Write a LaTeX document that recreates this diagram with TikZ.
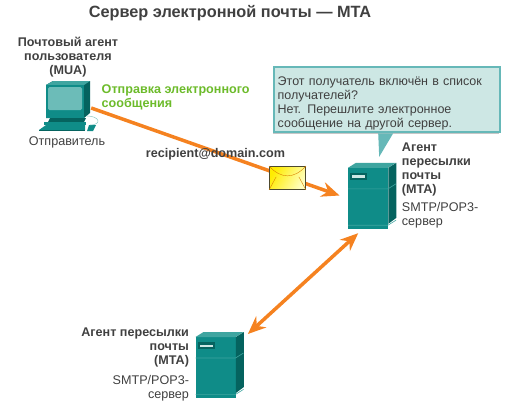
\documentclass[tikz,border=0pt]{standalone}
\usepackage{fontspec}
\setmainfont{Liberation Sans}
\usetikzlibrary{shadows,arrows.meta}
\definecolor{tealmain}{HTML}{0F8C88}
\definecolor{tealdark}{HTML}{05635F}
\definecolor{teallight}{HTML}{3FA5A0}
\definecolor{screenfill}{HTML}{6CBCB8}
\definecolor{notefill}{HTML}{CDE7E4}
\definecolor{noteedge}{HTML}{66B8B8}
\definecolor{textgrey}{HTML}{404040}
\definecolor{sendgreen}{HTML}{6CBB2A}
\definecolor{arroworange}{HTML}{F58220}
\tikzstyle{titel}=[text=textgrey, font=\fontsize{16.3}{19}\selectfont\bfseries]
\tikzstyle{agent}=[text=textgrey, font=\fontsize{12.6}{14}\selectfont\bfseries]
\tikzstyle{plain}=[text=textgrey, font=\fontsize{12.6}{14}\selectfont]
\tikzstyle{sendtext}=[text=sendgreen, font=\fontsize{12.6}{14}\selectfont\bfseries, align=left]
\tikzstyle{note}=[draw=noteedge, line width=2pt, fill=notefill, text=textgrey, align=left,
  font=\fontsize{12.5}{14}\selectfont, minimum width=226pt, minimum height=65pt, inner sep=0pt,
  text width=218pt, drop shadow={shadow xshift=-1pt, shadow yshift=-2pt, opacity=0.45}]
\tikzstyle{serverfront}=[fill=tealmain, minimum width=40pt, minimum height=61pt, inner sep=0pt]
\tikzstyle{pcbox}=[minimum width=51pt, minimum height=54pt, inner sep=0pt]
\tikzstyle{line}=[draw, line width=3.5pt, color=arroworange,
  -{Stealth[length=18pt, width=15pt, inset=6pt]}]
\tikzstyle{dline}=[line, {Stealth[length=18pt, width=15pt, inset=6pt]}-{Stealth[length=18pt, width=15pt, inset=6pt]}]
\newcommand{\serverbody}[1]{%
  % top and side faces
  \fill[teallight] (#1.north west) -- ++(8,-5) -- ++(40,0) -- ++(-8,5) -- cycle;
  \fill[tealdark] (#1.north east) -- ++(8,-5) -- ++(0,55) -- ++(-8,6) -- cycle;
  % seams and drive slot
  \draw[teallight, line width=0.6pt] (#1.north west)+(0,21) -- +(40,21) -- +(48,16);
  \draw[teallight, line width=0.6pt] (#1.south west)+(0,-4) -- +(40,-4) -- +(48,-9);
  \fill[tealdark] (#1.north west)+(2,5) rectangle +(19,12);
  \fill[notefill] (#1.north west)+(4,7.5) rectangle +(17,10);
}
\begin{document}
\begin{tikzpicture}[x=1pt,y=-1pt]
  \useasboundingbox (0,0) rectangle (519,407);

  % title and sender
  \node (TITLE) [titel] at (230,13) {Сервер электронной почты — MTA};
  \node (MUATEXT) [agent, align=center] at (68,57) {Почтовый агент\\пользователя\\(MUA)};
  \node (MUAPC) [pcbox] at (65.5,108) {};
  \path (MUAPC.south)+(1.5,7) node (SENDER) [plain] {Отправитель};
  \path (MUAPC.north east)+(7,0) node (SENDTEXT) [sendtext, anchor=north west] {Отправка электронного\\сообщения};

  % computer
  \fill[tealdark] (46,85) -- (53,81) -- (90,81) -- (90,113) -- (84,118) -- (46,118) -- cycle;
  \fill[teallight] (46,85) -- (53,81) -- (90,81) -- (84,85) -- cycle;
  \fill[tealmain] (46,85) rectangle (84,118);
  \fill[screenfill, rounded corners=1.5pt] (48,87) rectangle (82,110);
  \fill[tealdark] (50,118) -- (86,118) -- (83,124) -- (47,124) -- cycle;
  \fill[tealmain] (44,122) -- (86,122) -- (86,125) -- (44,125) -- cycle;
  \fill[tealmain] (46,125) -- (85,125) -- (85,130) -- (39,130) -- cycle;
  \fill[tealdark] (39,130) rectangle (85,131);
  \fill[tealmain] (89,125) -- (96,125) -- (93,131) -- (87,131) -- cycle;
  \draw[teallight!60!white, line width=0.5pt] (90,125) .. controls (102,125) and (100,116) .. (87,116);

  % servers
  \path (MUAPC.east)+(277,90.5) node (MTAA) [serverfront] {};
  \serverbody{MTAA}
  \path (MTAA.north east)+(10,-29) node (MTAATEXT) [agent, align=left, anchor=north west] {Агент\\пересылки\\почты\\(MTA)};
  \path (MTAATEXT.south west)+(0,0) node (MTAASUB) [plain, align=left, anchor=north west] {SMTP/POP3-\\сервер};

  \path (MTAA.south)+(-152.5,138.5) node (MTAB) [serverfront] {};
  \serverbody{MTAB}
  \path (MTAB.north west)+(-3,-13) node (MTABTEXT) [agent, align=right, anchor=north east] {Агент пересылки\\почты\\(MTA)};
  \path (MTABTEXT.south east)+(0,1) node (MTABSUB) [plain, align=right, anchor=north east] {SMTP/POP3-\\сервер};

  % message bubble
  \path (MTAA.north)+(18.5,-68) node (NOTE) [note] {\rule{0pt}{15.4pt}Этот получатель включён в список\\получателей?\\Нет. Перешлите электронное\\сообщение на другой сервер.};
  \path (NOTE.south)+(-8.5,0) coordinate (TAILL);
  \path (NOTE.south)+(6.5,0) coordinate (TAILR);
  \path (MTAA.north)+(11,-11) coordinate (TAILTIP);
  \fill[noteedge] (TAILL) -- (TAILR) -- (TAILTIP) -- cycle;

  % Draw arrows between elements
  \path [line, shorten >=9pt] (MUAPC.east) -- (MTAA.west);
  \path (MTAA.south)+(-10,4) coordinate (LINKA);
  \path (MTAB.north east)+(12,-3) coordinate (LINKB);
  \path [dline] (LINKA) -- (LINKB);

  % envelope
  \path (MTAA.west)+(-60.5,-20.5) node (MAIL) [draw=black!60!olive, line width=0.8pt, minimum width=36pt, minimum height=23pt,
    inner sep=0pt, left color=yellow!85!orange, right color=yellow!25!white, shading angle=60] {};
  \draw[orange!70!olive, line width=0.4pt] (MAIL.north west) .. controls +(12,13) and +(-12,13) .. (MAIL.north east);
  \draw[orange!70!olive, line width=0.4pt] (MAIL.south west) -- +(7,-13);
  \draw[orange!70!olive, line width=0.4pt] (MAIL.south east) -- +(-7,-13);

  \path (MAIL.north)+(-72,-12) node (ADDRESS) [agent] {recipient@domain.com};
\end{tikzpicture}
\end{document}
